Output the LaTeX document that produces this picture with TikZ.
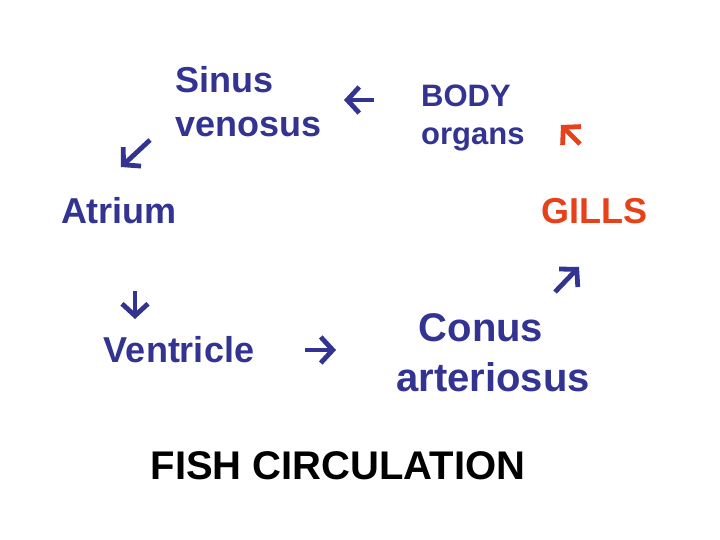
\documentclass[tikz,border=0pt]{standalone}
\usepackage{fontspec}
\setmainfont{Liberation Sans}
\usetikzlibrary{arrows.meta}
\definecolor{fblue}{RGB}{51,51,145}
\definecolor{fred}{RGB}{230,65,25}
\tikzset{
  lbl/.style={font=\bfseries\fontsize{36}{44}\selectfont, text=fblue, inner sep=0pt},
  arr/.style={draw=fblue, line width=4.8pt, -{Straight Barb[length=12pt,width=26pt]}},
}
\begin{document}
\begin{tikzpicture}[x=1pt,y=-1pt]
\useasboundingbox (0,0) rectangle (720,540);
\node[lbl, anchor=west, align=left] (sinus) at (175,102) {Sinus\\venosus};
\node[lbl, anchor=west, align=left, font=\bfseries\fontsize{31}{38}\selectfont] (body) at (421,118) {BODY\\organs};
\node[lbl] (atrium) at (119,211) {Atrium};
\node[lbl, text=fred] (gills) at (594,211) {GILLS};
\node[lbl] (ventricle) at (179,350) {Ventricle};
\node[lbl, font=\bfseries\fontsize{40}{49}\selectfont] (conus) at (481,328) {Conus};
\node[lbl, font=\bfseries\fontsize{40}{49}\selectfont] (arteriosus) at (493,377) {arteriosus};
\node[lbl, text=black, font=\bfseries\fontsize{40}{48}\selectfont] (title) at (338,466) {FISH CIRCULATION};
% arrows
\coordinate (a1s) at (150,140); \coordinate (a1e) at (121,167);
\coordinate (a2s) at (374,100); \coordinate (a2e) at (344,100);
\coordinate (a3s) at (580,144); \coordinate (a3e) at (561,125);
\coordinate (a4s) at (555,292); \coordinate (a4e) at (579,267);
\coordinate (a5s) at (135,291); \coordinate (a5e) at (135,319);
\coordinate (a6s) at (305,350); \coordinate (a6e) at (336,350);
\draw[arr] (a1s) -- (a1e);
\draw[arr] (a2s) -- (a2e);
\draw[arr, draw=fred] (a3s) -- (a3e);
\draw[arr] (a4s) -- (a4e);
\draw[arr] (a5s) -- (a5e);
\draw[arr] (a6s) -- (a6e);
\end{tikzpicture}
\end{document}
